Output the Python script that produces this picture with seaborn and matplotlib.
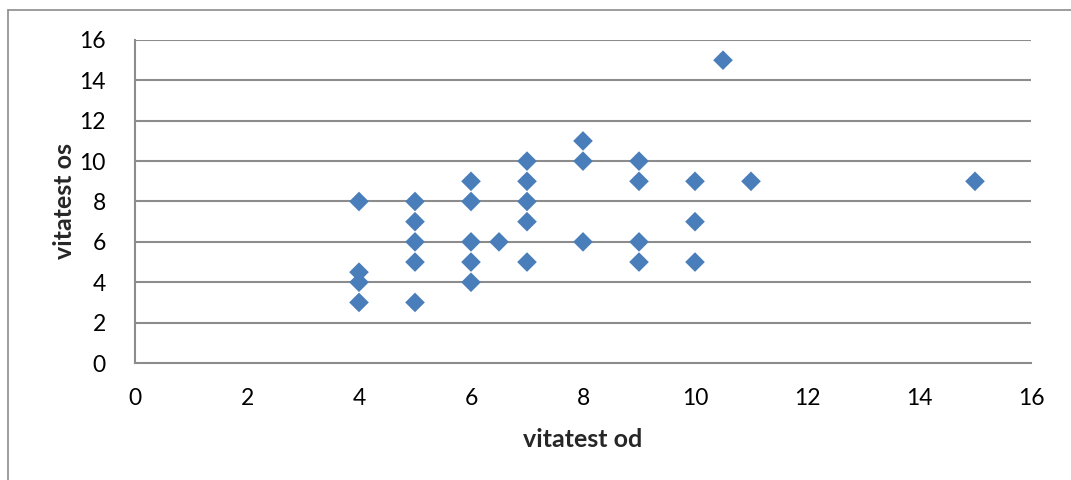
import pandas as pd
import seaborn as sns
import matplotlib.pyplot as plt
from matplotlib.lines import Line2D

# Verdier lest av bildet
od = [4, 4, 4, 4,
      5, 5, 5, 5, 5,
      6, 6, 6, 6, 6,
      6.5,
      7, 7, 7, 7, 7,
      8, 8, 8,
      9, 9, 9, 9,
      10, 10, 10,
      10.5, 11, 15]
os_ = [8, 4.5, 4, 3,
       8, 7, 6, 5, 3,
       9, 8, 6, 5, 4,
       6,
       10, 9, 8, 7, 5,
       11, 10, 6,
       10, 9, 6, 5,
       9, 7, 5,
       15, 9, 9]
ticks = [0, 2, 4, 6, 8, 10, 12, 14, 16]

df = pd.DataFrame({'vitatest od': od, 'vitatest os': os_})

sns.set_style('white')
plt.rcParams['font.family'] = ['Lato', 'DejaVu Sans']

fig = plt.figure(figsize=(10.71, 4.8), dpi=100)
ax = fig.add_axes([135 / 1071, 1 - 363 / 480, (1031 - 135) / 1071, (363 - 40) / 480])

grid_col = '#8c8c8c'
for t in ticks[1:]:
    ax.axhline(t, color=grid_col, lw=1.5, zorder=0)

sns.scatterplot(data=df, x='vitatest od', y='vitatest os', marker='D', s=100,
                color='#4a7ebb', edgecolor='none', ax=ax, zorder=3, clip_on=False)

ax.set_xlim(0, 16)
ax.set_ylim(0, 16)
ax.set_xticks(ticks)
ax.set_yticks(ticks)
ax.tick_params(axis='both', labelsize=16.5, length=0, colors='black')
ax.tick_params(axis='x', pad=18)
ax.tick_params(axis='y', pad=21)

for side in ['top', 'right']:
    ax.spines[side].set_visible(False)
for side in ['left', 'bottom']:
    ax.spines[side].set_color(grid_col)
    ax.spines[side].set_linewidth(1.5)

ax.set_xlabel('vitatest od', fontsize=18, fontweight='bold', labelpad=14)
ax.set_ylabel('vitatest os', fontsize=18, fontweight='bold', labelpad=2)

# Ramme rundt diagrammet
fig.add_artist(Line2D([8 / 1071, 1.0], [1 - 10 / 480, 1 - 10 / 480],
                      color='#8c8c8c', lw=1.2, transform=fig.transFigure))
fig.add_artist(Line2D([8 / 1071, 8 / 1071], [0.0, 1 - 10 / 480],
                      color='#8c8c8c', lw=1.2, transform=fig.transFigure))

fig.savefig('out.png', dpi=100)
